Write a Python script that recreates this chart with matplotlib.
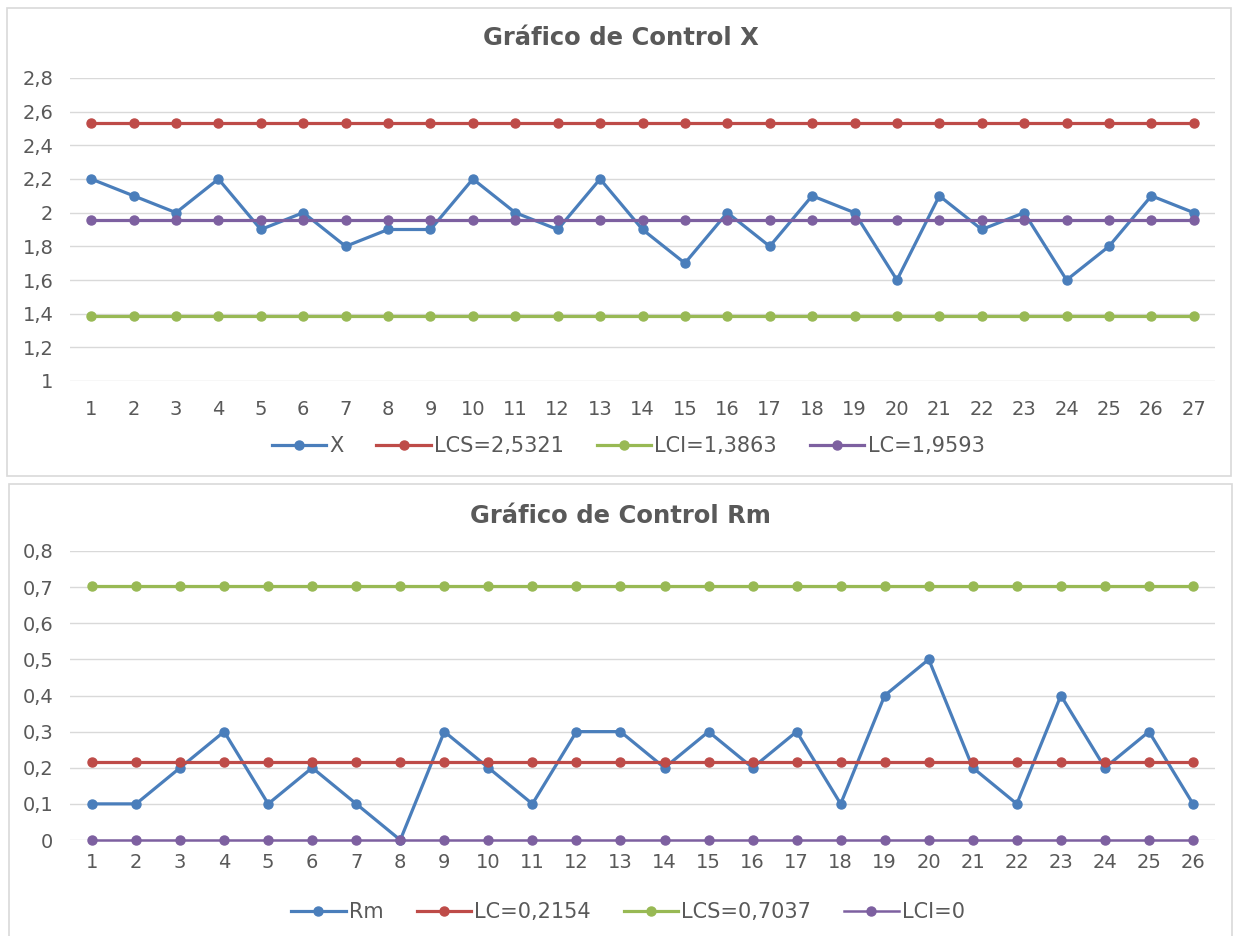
import matplotlib
matplotlib.use("Agg")
import matplotlib.pyplot as plt
from matplotlib.patches import Rectangle
from matplotlib.ticker import FuncFormatter

# --- data ---
x_values = [2.2, 2.1, 2.0, 2.2, 1.9, 2.0, 1.8, 1.9, 1.9, 2.2, 2.0, 1.9, 2.2, 1.9,
            1.7, 2.0, 1.8, 2.1, 2.0, 1.6, 2.1, 1.9, 2.0, 1.6, 1.8, 2.1, 2.0]
x_lcs = 2.5321
x_lci = 1.3863
x_lc = 1.9593
x_labels = ["X", "LCS=2,5321", "LCI=1,3863", "LC=1,9593"]
x_yticks = [1.0, 1.2, 1.4, 1.6, 1.8, 2.0, 2.2, 2.4, 2.6, 2.8]

rm_values = [0.1, 0.1, 0.2, 0.3, 0.1, 0.2, 0.1, 0.0, 0.3, 0.2, 0.1, 0.3, 0.3,
             0.2, 0.3, 0.2, 0.3, 0.1, 0.4, 0.5, 0.2, 0.1, 0.4, 0.2, 0.3, 0.1]
rm_lc = 0.2154
rm_lcs = 0.7037
rm_lci = 0.0
rm_labels = ["Rm", "LC=0,2154", "LCS=0,7037", "LCI=0"]
rm_yticks = [0.0, 0.1, 0.2, 0.3, 0.4, 0.5, 0.6, 0.7, 0.8]

BLUE = "#4a7ebb"
RED = "#be4b48"
GREEN = "#98b954"
PURPLE = "#7d60a0"
TXT = "#595959"
GRID = "#d9d9d9"

plt.rcParams["font.family"] = ["DejaVu Sans"]

W, H = 1234, 936
fig = plt.figure(figsize=(W / 100, H / 100), dpi=100)

# chart borders
fig.patches.append(Rectangle((7 / W, 1 - 476 / H), 1224 / W, 468 / H, transform=fig.transFigure,
                             fill=False, edgecolor=GRID, lw=1.2))
fig.patches.append(Rectangle((9 / W, 1 - 940 / H), 1223 / W, 456 / H, transform=fig.transFigure,
                             fill=False, edgecolor=GRID, lw=1.2))


def fmt(v, pos):
    return f"{round(v, 2):g}".replace(".", ",")


def style(ax, n, yticks, xpad):
    ax.set_xlim(0.5, n + 0.5)
    ax.set_ylim(yticks[0], yticks[-1])
    ax.set_yticks(yticks)
    ax.set_xticks(range(1, n + 1))
    ax.yaxis.set_major_formatter(FuncFormatter(fmt))
    ax.grid(axis="y", color=GRID, lw=1)
    ax.set_axisbelow(True)
    for s in ax.spines.values():
        s.set_visible(False)
    ax.tick_params(axis="both", length=0, labelsize=14, labelcolor=TXT)
    ax.tick_params(axis="y", pad=12)
    ax.tick_params(axis="x", pad=xpad)


def series(ax, xs, ys, color, label, lw=2.3):
    ax.plot(xs, ys, color=color, lw=lw, marker="o", markersize=6.5,
            label=label, clip_on=False)


def legend(ax, ypix):
    fig.legend(*ax.get_legend_handles_labels(), loc="center",
               bbox_to_anchor=(628 / W, 1 - ypix / H), ncol=4, frameon=False,
               fontsize=15, labelcolor=TXT, numpoints=1,
               handlelength=2.6, handletextpad=0.15, columnspacing=1.6)


# --- top chart: X ---
ax1 = fig.add_axes([70 / W, 1 - 381 / H, 1145 / W, 303 / H])
n1 = len(x_values)
xs1 = list(range(1, n1 + 1))
series(ax1, xs1, x_values, BLUE, x_labels[0])
series(ax1, xs1, [x_lcs] * n1, RED, x_labels[1])
series(ax1, xs1, [x_lci] * n1, GREEN, x_labels[2])
series(ax1, xs1, [x_lc] * n1, PURPLE, x_labels[3])
style(ax1, n1, x_yticks, 14)
fig.text(0.503, 1 - 38 / H, "Gráfico de Control X", ha="center", va="center",
         fontsize=17.5, fontweight="bold", color=TXT)
legend(ax1, 446)

# --- bottom chart: Rm ---
ax2 = fig.add_axes([70 / W, 1 - 840 / H, 1145 / W, 289 / H])
n2 = len(rm_values)
xs2 = list(range(1, n2 + 1))
series(ax2, xs2, rm_values, BLUE, rm_labels[0])
series(ax2, xs2, [rm_lc] * n2, RED, rm_labels[1])
series(ax2, xs2, [rm_lcs] * n2, GREEN, rm_labels[2])
series(ax2, xs2, [rm_lci] * n2, PURPLE, rm_labels[3], lw=1.8)
style(ax2, n2, rm_yticks, 9)
fig.text(0.503, 1 - 516 / H, "Gráfico de Control Rm", ha="center", va="center",
         fontsize=17.5, fontweight="bold", color=TXT)
legend(ax2, 912)

fig.savefig("out.png", dpi=100)
